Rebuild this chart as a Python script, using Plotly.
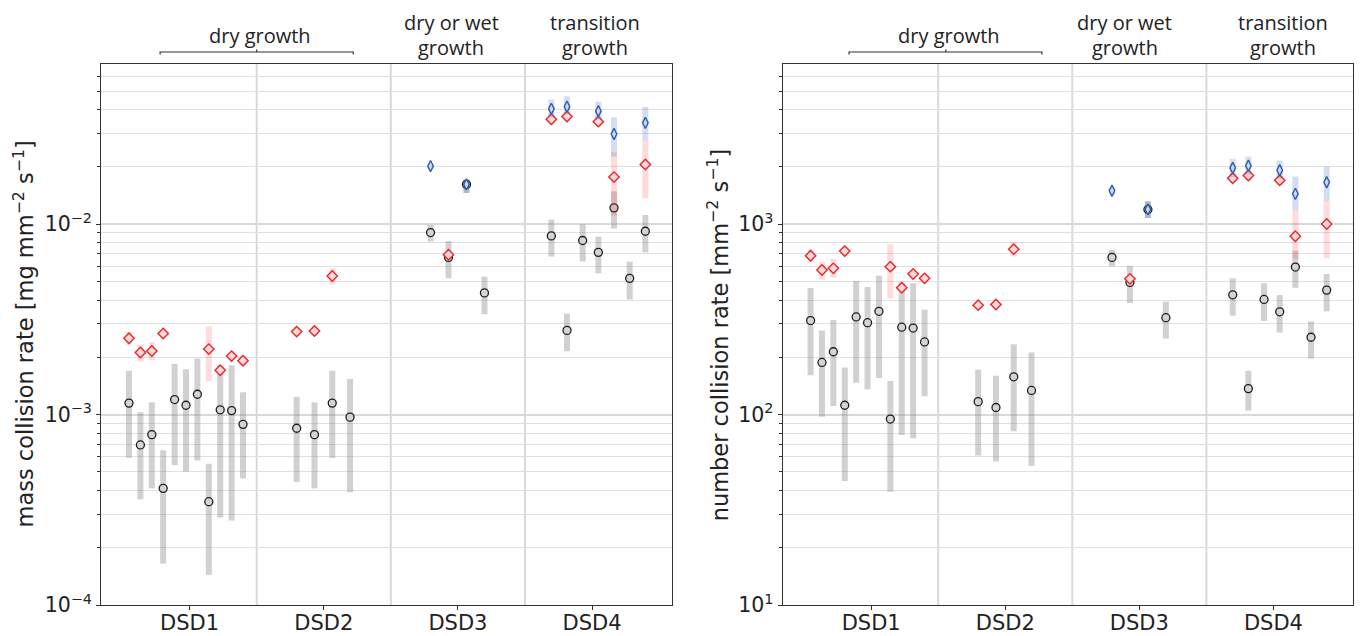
import plotly.graph_objects as go

# ---------------- data ----------------
groups = ["DSD1", "DSD2", "DSD3", "DSD4"]
group_sizes = [11, 4, 4, 7]

# mass collision rate [mg mm^-2 s^-1]
mass_circle = [1.15e-3, 6.93e-4, 7.85e-4, 4.10e-4, 1.20e-3, 1.12e-3, 1.28e-3, 3.49e-4, 1.06e-3, 1.05e-3, 8.89e-4,
               8.48e-4, 7.85e-4, 1.15e-3, 9.70e-4,
               9.05e-3, 6.70e-3, 1.62e-2, 4.36e-3,
               8.69e-3, 2.77e-3, 8.22e-3, 7.12e-3, 1.22e-2, 5.20e-3, 9.19e-3]
mass_circle_lo = [5.93e-4, 3.59e-4, 4.10e-4, 1.65e-4, 5.43e-4, 5.02e-4, 5.74e-4, 1.44e-4, 2.88e-4, 2.78e-4, 4.62e-4,
                  4.43e-4, 4.10e-4, 5.93e-4, 3.91e-4,
                  8.12e-3, 5.20e-3, 1.46e-2, 3.37e-3,
                  6.78e-3, 2.15e-3, 6.38e-3, 5.53e-3, 9.49e-3, 4.03e-3, 7.12e-3]
mass_circle_hi = [1.70e-3, 1.03e-3, 1.16e-3, 6.50e-4, 1.85e-3, 1.73e-3, 1.97e-3, 5.52e-4, 1.79e-3, 1.82e-3, 1.31e-3,
                  1.24e-3, 1.16e-3, 1.70e-3, 1.54e-3,
                  9.92e-3, 8.18e-3, 1.72e-2, 5.31e-3,
                  1.06e-2, 3.39e-3, 1.00e-2, 8.63e-3, 1.49e-2, 6.36e-3, 1.12e-2]

mass_red = [2.52e-3, 2.12e-3, 2.16e-3, 2.67e-3, None, None, None, 2.21e-3, 1.71e-3, 2.03e-3, 1.92e-3,
            2.73e-3, 2.75e-3, 5.35e-3, None,
            None, 6.92e-3, None, None,
            3.56e-2, 3.68e-2, None, 3.46e-2, 1.77e-2, None, 2.06e-2]
mass_red_lo = [2.33e-3, 1.90e-3, 1.93e-3, 2.62e-3, None, None, None, 1.50e-3, 1.62e-3, 1.97e-3, 1.82e-3,
               2.60e-3, 2.60e-3, 4.82e-3, None,
               None, 6.60e-3, None, None,
               3.35e-2, 3.48e-2, None, 3.27e-2, 1.11e-2, None, 1.37e-2]
mass_red_hi = [2.72e-3, 2.33e-3, 2.41e-3, 2.72e-3, None, None, None, 2.90e-3, 1.82e-3, 2.09e-3, 2.03e-3,
               2.87e-3, 2.90e-3, 5.87e-3, None,
               None, 7.20e-3, None, None,
               3.78e-2, 3.90e-2, None, 3.68e-2, 2.39e-2, None, 2.75e-2]

mass_blue = [None] * 15 + [2.02e-2, None, 1.62e-2, None,
                           4.04e-2, 4.15e-2, None, 3.93e-2, 2.98e-2, None, 3.41e-2]
mass_blue_lo = [None] * 15 + [1.96e-2, None, 1.46e-2, None,
                              3.65e-2, 3.76e-2, None, 3.55e-2, 2.27e-2, None, 2.75e-2]
mass_blue_hi = [None] * 15 + [2.08e-2, None, 1.72e-2, None,
                              4.53e-2, 4.70e-2, None, 4.40e-2, 3.65e-2, None, 4.13e-2]

# number collision rate [mm^-2 s^-1]
num_circle = [312, 188, 214, 112, 326, 304, 349, 94.8, 288, 285, 241,
              117, 109, 158, 134,
              670, 495, 1197, 323,
              426, 137, 403, 347, 596, 255, 451]
num_circle_lo = [161, 97.5, 111, 44.8, 147, 136, 156, 39.4, 78.2, 75.2, 125,
                 61, 56.7, 81.7, 53.8,
                 601, 386, 1080, 251,
                 331, 105, 311, 270, 464, 197, 349]
num_circle_hi = [462, 277, 314, 177, 504, 469, 537, 150, 496, 490, 356,
                 172, 160, 234, 212,
                 735, 605, 1320, 392,
                 520, 170, 490, 425, 727, 309, 548]

num_red = [683, 575, 587, 723, None, None, None, 599, 464, 548, 520,
           376, 379, 740, None,
           None, 517, None, None,
           1745, 1803, None, 1703, 865, None, 1004]
num_red_lo = [631, 512, 525, 700, None, None, None, 409, 445, 525, 495,
              365, 368, 678, None,
              None, 495, None, None,
              1650, 1700, None, 1610, 657, None, 664]
num_red_hi = [740, 635, 657, 750, None, None, None, 786, 485, 575, 545,
              388, 391, 808, None,
              None, 540, None, None,
              1850, 1900, None, 1800, 1183, None, 1324]

num_blue = [None] * 15 + [1500, None, 1197, None,
                          1977, 2032, None, 1922, 1446, None, 1663]
num_blue_lo = [None] * 15 + [1450, None, 1080, None,
                             1774, 1825, None, 1730, 1183, None, 1324]
num_blue_hi = [None] * 15 + [1550, None, 1320, None,
                             2212, 2270, None, 2160, 1782, None, 2013]

# ---------------- layout helpers ----------------
group_centers = [0.973, 1.997, 2.997, 4.047]
group_steps = [0.085, 0.1326, 0.134, 0.1168]

xs = []
for c, s, n in zip(group_centers, group_steps, group_sizes):
    for i in range(n):
        xs.append(c + s * (i - (n - 1) / 2))


def errs(v, lo, hi):
    plus = [None if a is None else h - a for a, h in zip(v, hi)]
    minus = [None if a is None else a - l for a, l in zip(v, lo)]
    return plus, minus


fig = go.Figure()

series_style = [
    dict(symbol="circle", size=8, color="#d4d4d4", line=dict(color="#1e1e1e", width=1.3),
         ecolor="rgba(128,128,128,0.36)", thick=6),
    dict(symbol="diamond", size=8, color="#ffd9d9", line=dict(color="#e8262a", width=1.4),
         ecolor="rgba(255,40,40,0.17)", thick=6),
    dict(symbol="diamond-tall", size=8, color="#cfdaf0", line=dict(color="#2a5db0", width=1.4),
         ecolor="rgba(40,90,180,0.2)", thick=6),
]

panels = [
    ("x", "y", [(mass_circle, mass_circle_lo, mass_circle_hi),
                (mass_red, mass_red_lo, mass_red_hi),
                (mass_blue, mass_blue_lo, mass_blue_hi)]),
    ("x2", "y2", [(num_circle, num_circle_lo, num_circle_hi),
                  (num_red, num_red_lo, num_red_hi),
                  (num_blue, num_blue_lo, num_blue_hi)]),
]

for xa, ya, series in panels:
    for (v, lo, hi), st in zip(series, series_style):
        plus, minus = errs(v, lo, hi)
        fig.add_trace(go.Scatter(
            x=xs, y=v, xaxis=xa, yaxis=ya, mode="markers", showlegend=False,
            marker=dict(symbol=st["symbol"], size=st["size"], color=st["color"], line=st["line"]),
            error_y=dict(type="data", symmetric=False, array=plus, arrayminus=minus,
                         color=st["ecolor"], thickness=st["thick"], width=0),
        ))

tick_font = dict(family="DejaVu Sans", size=20.5, color="#222")
ann_font = dict(family="Open Sans", size=20, color="#222")


def minor_vals(d0, d1):
    out = []
    for d in range(d0, d1 + 1):
        for m in range(2, 10):
            out.append(m * 10 ** d)
    return out


def sup(e):
    s = str(e).replace("-", "−")
    return f"10<sup>{s}</sup>"


xcommon = dict(range=[0.3393, 4.5936], tickmode="array", tickvals=[1, 2, 3, 4], ticktext=groups,
               ticks="outside", ticklen=4, tickcolor="#333", showgrid=False, zeroline=False,
               showline=True, linecolor="#333", linewidth=1, mirror=True, automargin=False,
               ticklabelstandoff=-5, tickfont=dict(tick_font, size=21))


def ycommon(d0, top):
    return dict(type="log", range=[d0, top], tickmode="array",
                tickvals=[10 ** d for d in range(d0, d0 + 3)],
                ticktext=[sup(d) for d in range(d0, d0 + 3)],
                ticks="outside", ticklen=4, tickcolor="#333",
                showgrid=True, gridcolor="#d9d9d9", gridwidth=2,
                minor=dict(tickmode="array", tickvals=minor_vals(d0, d0 + 2), ticks="outside",
                           ticklen=3, tickcolor="#333", showgrid=True, gridcolor="#e0e0e0", gridwidth=1.2),
                showline=True, linecolor="#333", linewidth=1, mirror=True, zeroline=False,
                automargin=False, tickfont=tick_font)


# page body has an 8px margin: compensate so the plot areas land where the reference has them
fig.update_layout(
    width=1355, height=628,
    margin=dict(l=93, r=9.7, t=56, b=31, autoexpand=False),
    paper_bgcolor="white", plot_bgcolor="white",
    xaxis=dict(xcommon, domain=[0, 0.4558], anchor="y"),
    xaxis2=dict(xcommon, domain=[0.5444, 1], anchor="y2"),
    yaxis=dict(ycommon(-4, -1.158), anchor="x"),
    yaxis2=dict(ycommon(1, 3.842), anchor="x2"),
)

shapes = []
for xa in ["x", "x2"]:
    for k in range(1, len(groups)):
        shapes.append(dict(type="line", xref=xa, yref=("y" if xa == "x" else "y2") + " domain",
                           x0=k + 0.5, x1=k + 0.5, y0=0, y1=1,
                           line=dict(color="#d9d9d9", width=2), layer="below"))

# brackets over "dry growth"
y_br, y_dn, y_up = 1.0222, 1.0176, 1.0268
for xa, x0, x1, xc in [("x", 0.78, 2.22, 1.5), ("x2", 0.835, 2.273, 1.557)]:
    shapes.append(dict(type="path", xref=xa, yref="paper",
                       path=f"M {x0},{y_dn} L {x0},{y_br} L {x1},{y_br} L {x1},{y_dn} M {xc},{y_br} L {xc},{y_up}",
                       line=dict(color="#333", width=1.2)))

annotations = []
for xa, xdry, xdw, xtr in [("x", 1.525, 2.95, 4.025), ("x2", 1.583, 2.89, 4.069)]:
    annotations.append(dict(text="dry growth", x=xdry, y=1.0536, xref=xa, yref="paper",
                            showarrow=False, font=ann_font, xanchor="center", yanchor="middle"))
    for txt, xx in [("dry or wet", xdw), ("transition", xtr)]:
        annotations.append(dict(text=txt, x=xx, y=1.0776, xref=xa, yref="paper",
                                showarrow=False, font=ann_font, xanchor="center", yanchor="middle",
                                borderpad=0))
        annotations.append(dict(text="growth", x=xx, y=1.0314, xref=xa, yref="paper",
                                showarrow=False, font=ann_font, xanchor="center", yanchor="middle",
                                borderpad=0))

annotations.append(dict(text="mass collision rate [mg mm<sup>−2</sup> s<sup>−1</sup>]",
                        x=-0.0623, y=0.5, xref="paper", yref="paper", textangle=-90,
                        showarrow=False, font=dict(tick_font, size=22.5), xanchor="center", yanchor="middle"))
annotations.append(dict(text="number collision rate [mm<sup>−2</sup> s<sup>−1</sup>]",
                        x=0.4927, y=0.5, xref="paper", yref="paper", textangle=-90,
                        showarrow=False, font=dict(tick_font, size=22.5), xanchor="center", yanchor="middle"))

fig.update_layout(shapes=shapes, annotations=annotations)

fig.write_html("out.html")
